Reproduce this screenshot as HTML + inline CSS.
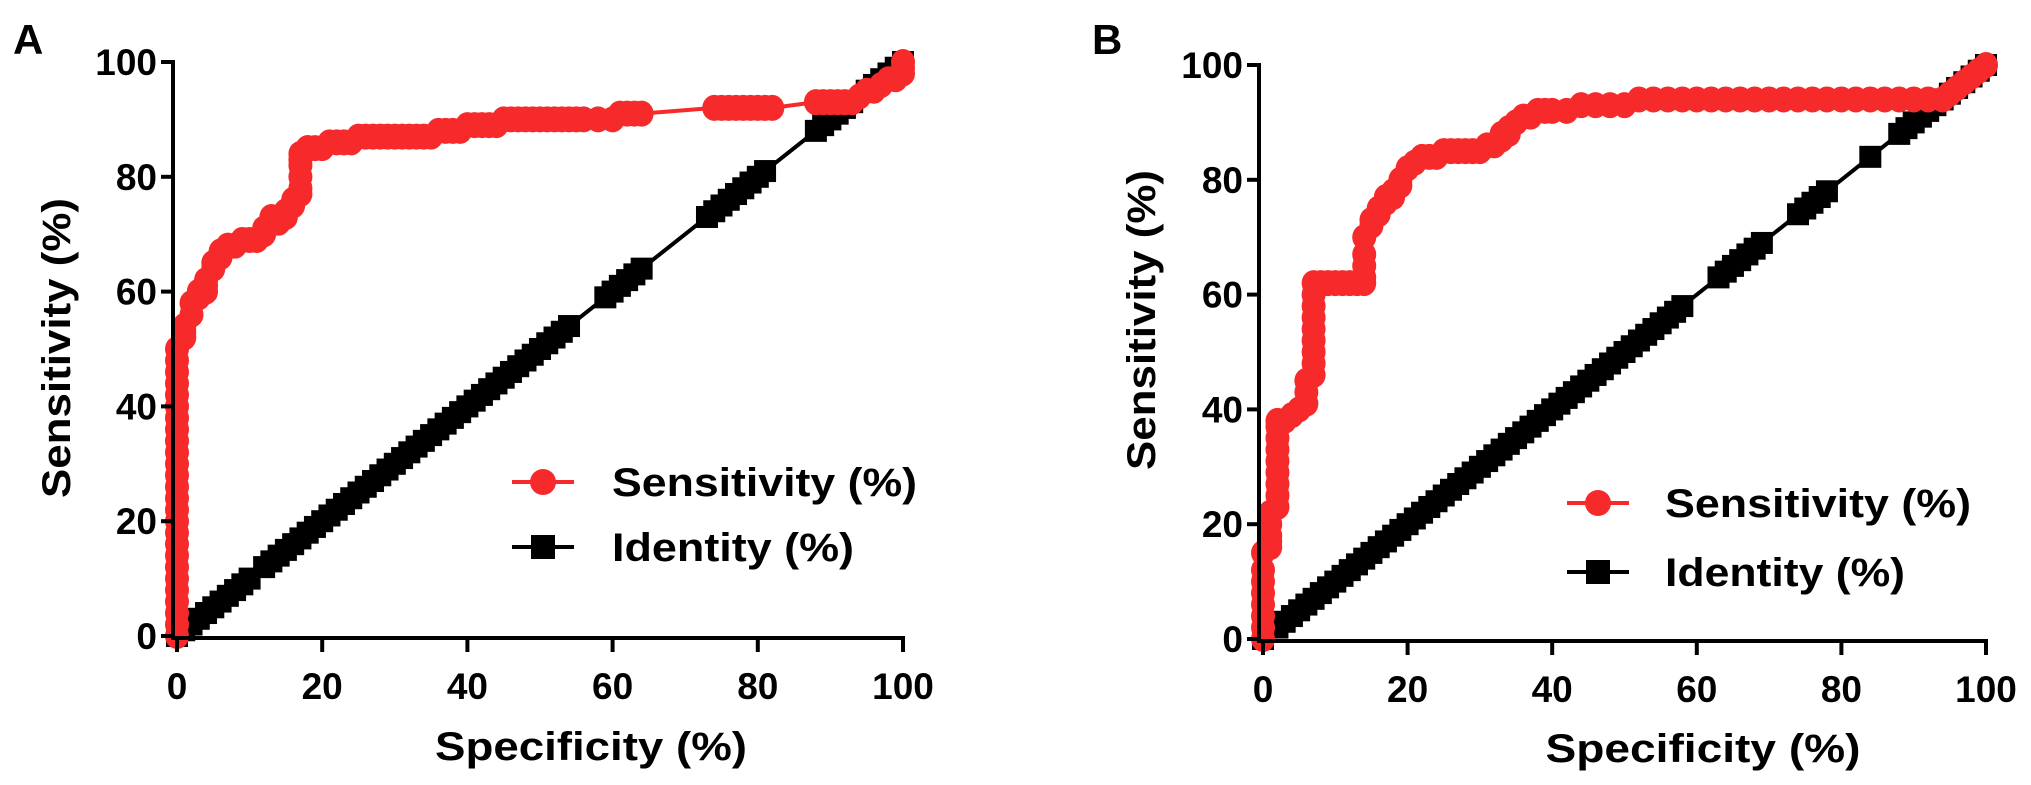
<!DOCTYPE html>
<html><head><meta charset="utf-8">
<style>
html,body{margin:0;padding:0;background:#fff;}
svg{display:block;}
text{font-family:"Liberation Sans",Arial,sans-serif;font-weight:bold;fill:#000;}
</style></head>
<body>
<svg id="fig" width="2031" height="785" viewBox="0 0 2031 785" xmlns="http://www.w3.org/2000/svg">
  <g id="panelA"></g>
  <g id="panelB"></g>
</svg>
<script>
const xTicks = [0, 20, 40, 60, 80, 100];
const yTicks = [0, 20, 40, 60, 80, 100];
const seriesNames = ["Sensitivity (%)", "Identity (%)"];

const sensAx = [0,0,0,0,0,0,0,0,0,0,0,0,0,0,0,0,0,0,0,0,0,0,0,0,0,0,1,1,1,2,2,3,3,4,4,4,5,5,6,6,7,8,9,10,11,12,12,13,13,14,14,15,15,16,16,17,17,17,17,17,17,18,18,19,20,21,22,23,24,25,26,27,28,29,30,31,32,33,34,35,36,37,38,39,40,41,42,43,44,45,46,47,48,49,50,51,52,53,54,55,56,58,60,61,62,63,64,74,75,76,77,78,79,80,81,82,88,89,90,91,92,93,94,95,96,97,98,99,100,100,100];
const sensAy = [0,2,4,6,8,10,12,14,16,18,20,22,24,26,28,30,32,34,36,38,40,42,44,46,48,50,52,53,54,56,58,59,60,60,61,62,64,65,66,67,68,68,69,69,69,70,71,72,73,73,72,73,74,75,76,77,78,80,82,83,84,85,85,85,85,86,86,86,86,87,87,87,87,87,87,87,87,87,87,87,88,88,88,88,89,89,89,89,89,90,90,90,90,90,90,90,90,90,90,90,90,90,90,91,91,91,91,92,92,92,92,92,92,92,92,92,93,93,93,93,93,93,94,95,95,96,97,97,98,99,100];
const idAx = [0,1,2,3,4,5,6,7,8,9,10,12,13,14,15,16,17,18,19,20,21,22,23,24,25,26,27,28,29,30,31,32,33,34,35,36,37,38,39,40,41,42,43,44,45,46,47,48,49,50,51,52,53,54,59,60,61,62,63,64,73,74,75,76,77,78,79,80,81,88,89,90,91,92,93,95,96,97,98,99,100];
const idAy = [0,1,2,3,4,5,6,7,8,9,10,12,13,14,15,16,17,18,19,20,21,22,23,24,25,26,27,28,29,30,31,32,33,34,35,36,37,38,39,40,41,42,43,44,45,46,47,48,49,50,51,52,53,54,59,60,61,62,63,64,73,74,75,76,77,78,79,80,81,88,89,90,91,92,93,95,96,97,98,99,100];

const sensBx = [0,0,0,0,0,0,0,0,1,1,1,1,1,2,2,2,2,2,2,2,2,2,3,4,5,6,6,6,7,7,7,7,7,7,7,7,7,8,9,10,11,12,13,14,14,14,14,14,15,15,16,16,17,17,18,18,19,19,20,21,22,23,24,25,26,27,28,29,30,31,32,33,33,34,34,35,36,37,38,39,40,42,44,46,48,50,52,54,56,58,60,62,64,66,68,70,72,74,76,78,80,82,84,86,88,90,92,94,95,96,97,98,99,100];
const sensBy = [0,2,4,6,8,10,12,15,16,17,18,20,22,23,25,27,29,31,33,35,37,38,38,39,40,41,43,45,46,48,50,52,54,56,58,60,62,62,62,62,62,62,62,62,63,65,67,70,72,73,74,75,76,77,77,78,79,80,82,83,84,84,84,85,85,85,85,85,85,86,86,87,88,88,89,90,91,91,92,92,92,92,93,93,93,93,94,94,94,94,94,94,94,94,94,94,94,94,94,94,94,94,94,94,94,94,94,94,95,96,97,98,99,100];
const idBx = [0,2,3,4,5,6,7,8,9,10,11,12,13,14,15,16,17,18,19,20,21,22,23,24,25,26,27,28,29,30,31,32,33,34,35,36,37,38,39,40,41,42,43,44,45,46,47,48,49,50,51,52,53,54,55,56,57,58,63,64,65,66,67,68,69,74,75,76,77,78,84,88,89,90,91,92,93,94,95,96,97,98,99,100];
const idBy = [0,2,3,4,5,6,7,8,9,10,11,12,13,14,15,16,17,18,19,20,21,22,23,24,25,26,27,28,29,30,31,32,33,34,35,36,37,38,39,40,41,42,43,44,45,46,47,48,49,50,51,52,53,54,55,56,57,58,63,64,65,66,67,68,69,74,75,76,77,78,84,88,89,90,91,92,93,94,95,96,97,98,99,100];

const NS = "http://www.w3.org/2000/svg";
function mk(tag, attrs, parent){
  const e = document.createElementNS(NS, tag);
  for (const k in attrs) e.setAttribute(k, attrs[k]);
  parent.appendChild(e);
  return e;
}

function drawPanel(g, cfg){
  const sx = v => cfg.x0 + (cfg.x1 - cfg.x0) * v / 100;
  const sy = v => cfg.y0 + (cfg.y1 - cfg.y0) * v / 100;

  const letter = mk('text', {x: cfg.lx, y: cfg.ly, 'font-size': 42}, g);
  letter.textContent = cfg.letter;
  
  

  const idG = mk('g', {}, g);
  
  
  const idPts = cfg.idx.map((v,i)=>sx(v)+','+sy(cfg.idy[i])).join(' ');
  const idLine = mk('polyline', {points: idPts, fill:'none', stroke:'#000', 'stroke-width':4}, idG);
  
  
  cfg.idx.forEach((v,i)=>{
    const r = mk('rect', {x: sx(v)-11, y: sy(cfg.idy[i])-11, width:22, height:22, fill:'#000'}, idG);
    
    
  });

  const sG = mk('g', {}, g);
  
  
  const sPts = cfg.sx.map((v,i)=>sx(v)+','+sy(cfg.sy[i])).join(' ');
  const sLine = mk('polyline', {points: sPts, fill:'none', stroke:'#f62a2a', 'stroke-width':4}, sG);
  
  
  cfg.sx.forEach((v,i)=>{
    const c = mk('ellipse', {cx: sx(v), cy: sy(cfg.sy[i]), rx: 12, ry: 13, fill:'#f62a2a'}, sG);
    
    
  });

  const ax = mk('g', {stroke:'#000', 'stroke-width':4, fill:'none'}, g);
  
  
  const yl = mk('line', {x1: cfg.ax, y1: sy(100)-2, x2: cfg.ax, y2: cfg.ay}, ax);
  
  
  const xl = mk('line', {x1: cfg.ax-2, y1: cfg.ay, x2: sx(100)+2, y2: cfg.ay}, ax);
  
  

  yTicks.forEach(t=>{
    const tk = mk('line', {x1: cfg.ax-12, y1: sy(t), x2: cfg.ax, y2: sy(t)}, ax);
    
    
    const tl = mk('text', {x: cfg.ax-16, y: sy(t)+13, 'font-size': 37, 'text-anchor':'end'}, g);
    tl.textContent = t;
    
    
  });
  xTicks.forEach(t=>{
    const tk = mk('line', {x1: sx(t), y1: cfg.ay, x2: sx(t), y2: cfg.ay+14}, ax);
    
    
    const tl = mk('text', {x: sx(t), y: cfg.ay+61, 'font-size': 37, 'text-anchor':'middle'}, g);
    tl.textContent = t;
    
    
  });

  const xt = mk('text', {x: cfg.xtx, y: cfg.xty, 'font-size': 40, 'text-anchor':'middle', textLength: cfg.xtw, lengthAdjust:'spacingAndGlyphs'}, g);
  xt.textContent = 'Specificity (%)';
  
  
  const yt = mk('text', {x: 0, y: 0, 'font-size': 40, 'text-anchor':'middle', textLength: 300, lengthAdjust:'spacingAndGlyphs', transform: 'translate(' + cfg.ytx + ',' + cfg.yty + ') rotate(-90)'}, g);
  yt.textContent = 'Sensitivity (%)';
  
  

  const lg = mk('g', {}, g);
  
  
  const e1 = mk('g', {}, lg);
  
  
  mk('line', {x1: cfg.lgx, y1: cfg.lgy1, x2: cfg.lgx+62, y2: cfg.lgy1, stroke:'#f62a2a', 'stroke-width':4}, e1);
  mk('ellipse', {cx: cfg.lgx+31, cy: cfg.lgy1, rx: 13, ry: 13, fill:'#f62a2a'}, e1);
  const t1 = mk('text', {x: cfg.lgtx, y: cfg.lgy1+14, 'font-size': 40, textLength: cfg.lgw1, lengthAdjust:'spacingAndGlyphs'}, e1);
  t1.textContent = seriesNames[0];
  const e2 = mk('g', {}, lg);
  
  
  mk('line', {x1: cfg.lgx, y1: cfg.lgy2, x2: cfg.lgx+62, y2: cfg.lgy2, stroke:'#000', 'stroke-width':4}, e2);
  mk('rect', {x: cfg.lgx+19, y: cfg.lgy2-12, width: 24, height: 24, fill:'#000'}, e2);
  const t2 = mk('text', {x: cfg.lgtx, y: cfg.lgy2+14, 'font-size': 40, textLength: cfg.lgw2, lengthAdjust:'spacingAndGlyphs'}, e2);
  t2.textContent = seriesNames[1];
}

drawPanel(document.getElementById('panelA'), {
  letter:'A', lx:13, ly:54,
  x0:177, x1:903, y0:636, y1:62, ax:173, ay:638,
  sx:sensAx, sy:sensAy, idx:idAx, idy:idAy,
  xtx:591, xty:760, xtw:312, ytx:70, yty:348,
  lgx:512, lgy1:482, lgy2:547, lgtx:612, lgw1:305, lgw2:242
});
drawPanel(document.getElementById('panelB'), {
  letter:'B', lx:1092, ly:54,
  x0:1263, x1:1986, y0:639, y1:65, ax:1259, ay:641,
  sx:sensBx, sy:sensBy, idx:idBx, idy:idBy,
  xtx:1703, xty:762, xtw:315, ytx:1155, yty:320,
  lgx:1567, lgy1:503, lgy2:572, lgtx:1665, lgw1:306, lgw2:240
});
</script>
</body></html>
